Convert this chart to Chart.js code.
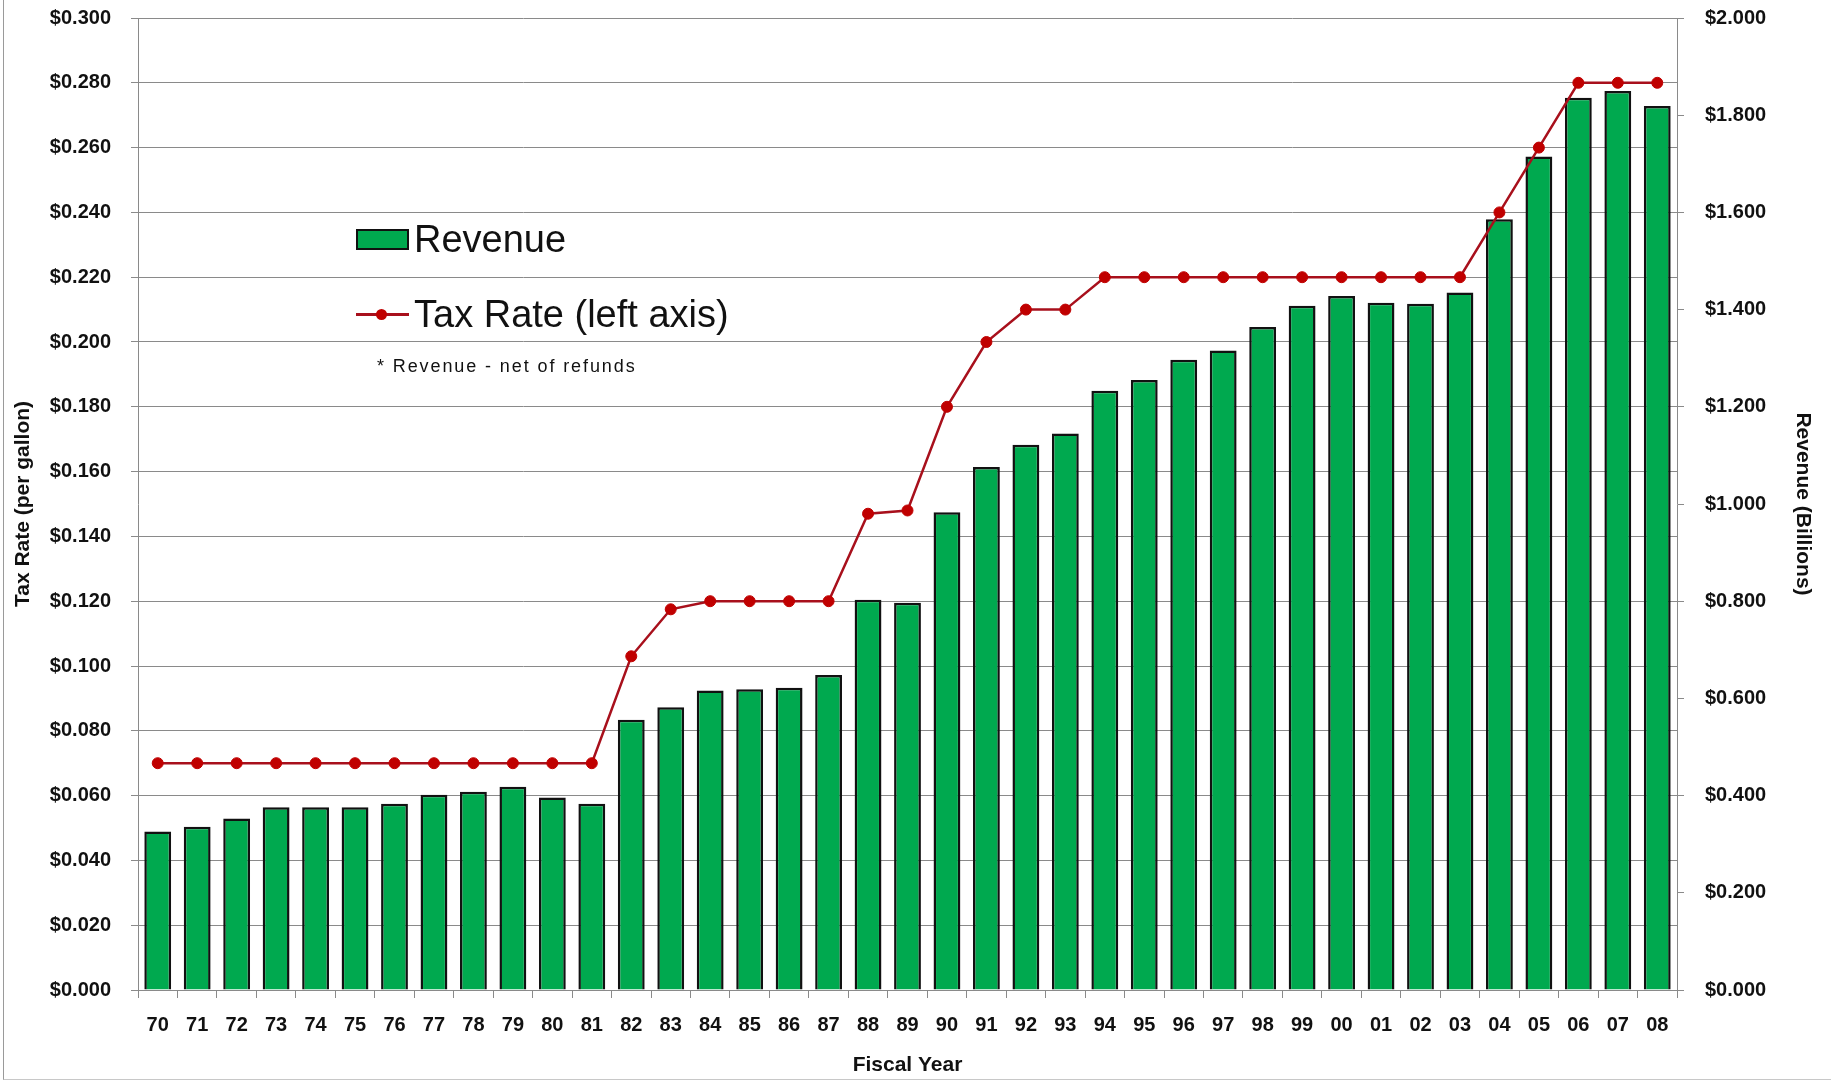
<!DOCTYPE html>
<html>
<head>
<meta charset="utf-8">
<script src="https://cdn.jsdelivr.net/npm/chart.js@4.4.0/dist/chart.umd.min.js"></script>
<style>
    html, body { margin: 0; padding: 0; background: #fff; }
    #wrap { position: relative; width: 1831px; height: 1081px; overflow: hidden; }
    #frame { position: absolute; left: 3px; top: 0; width: 1828px; height: 1079px;
             border-left: 1px solid #9a9a9a; border-bottom: 1px solid #c8c8c8; }
    #taxChart { position: absolute; left: 0; top: 0; }
    .legend { position: absolute; font-family: "Liberation Sans", Arial, sans-serif; color: #111; }
    .swatch { position: absolute; left: 356px; width: 49px; height: 17px; background: #00a94f; border: 2px solid #111; }
    .leg-line { position: absolute; left: 356px; width: 53px; height: 3px; background: #a8101c; }
    .leg-dot { position: absolute; left: 376px; width: 11px; height: 11px; border-radius: 50%; background: #c00000; }
    .leg-text { position: absolute; left: 414px; font-size: 38px; line-height: 44px; white-space: nowrap; }
    .note { position: absolute; left: 377px; top: 356px; font-size: 18px; letter-spacing: 1.9px; white-space: nowrap; }
</style>
</head>
<body>
<div id="wrap">
    <div id="frame"></div>
    <canvas id="taxChart" width="1831" height="1081"></canvas>
    <div class="legend">
        <div class="swatch" style="top:229px"></div>
        <div class="leg-text" style="top:217px">Revenue</div>
        <div class="leg-line" style="top:313px"></div>
        <div class="leg-dot" style="top:309px"></div>
        <div class="leg-text" style="top:292px">Tax Rate (left axis)</div>
        <div class="note">* Revenue - net of refunds</div>
    </div>
</div>
<script>
const years = ['70', '71', '72', '73', '74', '75', '76', '77', '78', '79',
    '80', '81', '82', '83', '84', '85', '86', '87', '88', '89',
    '90', '91', '92', '93', '94', '95', '96', '97', '98', '99',
    '00', '01', '02', '03', '04', '05', '06', '07', '08'];

// revenue in billions (right axis)
const revenue = [0.326, 0.336, 0.353, 0.376, 0.376, 0.376, 0.383, 0.402, 0.408, 0.418,
    0.396, 0.383, 0.556, 0.582, 0.616, 0.619, 0.622, 0.648, 0.803, 0.797,
    0.983, 1.076, 1.122, 1.145, 1.233, 1.255, 1.297, 1.316, 1.364, 1.408,
    1.428, 1.414, 1.412, 1.435, 1.586, 1.715, 1.836, 1.850, 1.819];

// tax rate per gallon (left axis)
const taxRate = [0.070, 0.070, 0.070, 0.070, 0.070, 0.070, 0.070, 0.070, 0.070, 0.070,
    0.070, 0.070, 0.103, 0.1175, 0.120, 0.120, 0.120, 0.120, 0.147, 0.148,
    0.180, 0.200, 0.210, 0.210, 0.220, 0.220, 0.220, 0.220, 0.220, 0.220,
    0.220, 0.220, 0.220, 0.220, 0.240, 0.260, 0.280, 0.280, 0.280];

const tickFont = { family: '"Liberation Sans", Arial, sans-serif', size: 20, weight: 'bold' };
const titleFont = { family: '"Liberation Sans", Arial, sans-serif', size: 21, weight: 'bold' };
const gridGray = '#8a8a8a';

// fixed axis boxes so the plot area lands where the original has it
function fixVertical(width) {
    return scale => {
        scale.width = width;
        scale.paddingTop = 0;
        scale.paddingBottom = 0;
    };
}

const ctx = document.getElementById('taxChart').getContext('2d');
new Chart(ctx, {
    type: 'bar',
    data: {
        labels: years,
        datasets: [
            {
                type: 'line',
                label: 'Tax Rate (left axis)',
                data: taxRate,
                yAxisID: 'yRate',
                borderColor: '#a8101c',
                borderWidth: 2.5,
                pointRadius: 5.5,
                pointBackgroundColor: '#c00000',
                pointBorderColor: '#c00000',
                pointBorderWidth: 1,
                tension: 0,
                order: 0
            },
            {
                label: 'Revenue',
                data: revenue,
                yAxisID: 'yRev',
                backgroundColor: '#00a94f',
                borderColor: '#111111',
                borderWidth: 2.5,
                categoryPercentage: 1.0,
                barPercentage: 0.68,
                order: 1
            }
        ]
    },
    options: {
        responsive: false,
        animation: false,
        layout: { padding: { top: 18, left: 0, right: 0, bottom: 0 } },
        plugins: {
            legend: { display: false },
            tooltip: { enabled: false }
        },
        scales: {
            x: {
                grid: { display: true, drawOnChartArea: false, drawTicks: true, tickLength: 8, color: gridGray, offset: true },
                border: { display: true, color: gridGray },
                ticks: { font: tickFont, color: '#111', padding: 15, maxRotation: 0, autoSkip: false },
                title: { display: true, text: 'Fiscal Year', font: titleFont, color: '#111', padding: { top: 0, bottom: 3 } },
                afterFit: scale => { scale.height = 91; }
            },
            yRate: {
                position: 'left',
                min: 0,
                max: 0.3,
                ticks: {
                    stepSize: 0.02,
                    font: tickFont,
                    color: '#111',
                    padding: 20,
                    callback: v => '$' + v.toFixed(3)
                },
                grid: { color: gridGray, lineWidth: 1, tickLength: 7 },
                border: { display: true, color: gridGray },
                title: { display: true, text: 'Tax Rate (per gallon)', font: titleFont, color: '#111', padding: { top: 11, bottom: 0 } },
                afterFit: fixVertical(138)
            },
            yRev: {
                position: 'right',
                min: 0,
                max: 2,
                ticks: {
                    stepSize: 0.2,
                    font: tickFont,
                    color: '#111',
                    padding: 21,
                    callback: v => '$' + v.toFixed(3)
                },
                grid: { drawOnChartArea: false, color: gridGray, tickLength: 7 },
                border: { display: true, color: gridGray },
                title: { display: true, text: 'Revenue (Billions)', font: titleFont, color: '#111', padding: { top: 16, bottom: 0 } },
                afterFit: fixVertical(154)
            }
        }
    }
});
</script>
</body>
</html>
